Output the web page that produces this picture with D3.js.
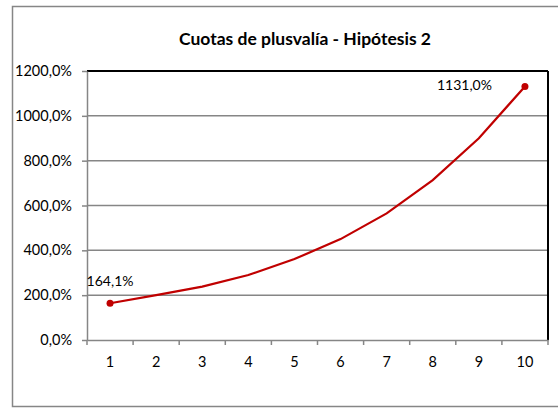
<!DOCTYPE html>
<html><head><meta charset="utf-8">
<script src="https://cdn.jsdelivr.net/npm/d3@7"></script>
<style>body{margin:0;background:#fff;overflow:hidden}svg{display:block}text{font-family:Lato,"Open Sans",sans-serif}</style>
</head><body><svg id="c" width="558" height="408"></svg>
<script>
const title = "Cuotas de plusvalía - Hipótesis 2";
const categories = [1,2,3,4,5,6,7,8,9,10];
const values = [164.1, 200, 238, 290, 361, 450, 565, 713, 900, 1131.0];
const yTicks = [0,200,400,600,800,1000,1200];
const labeledIdx = [0, 9];

const svg = d3.select("#c");
const m = {l:87, t:71, r:548, b:340};
const fmt = v => d3.format(".1f")(v).replace(".", ",") + "%";

svg.append("rect").attr("x",12.5).attr("y",6.5).attr("width",600).attr("height",400)
  .attr("fill","#fff").attr("stroke","#868686").attr("stroke-width",1.5);

svg.append("text").attr("x",305).attr("y",45).attr("text-anchor","middle")
  .attr("font-weight","bold").attr("font-size",17.5).attr("fill","#000").text(title);

const x = d3.scaleBand().domain(categories).range([m.l, m.r]).padding(0);
const y = d3.scaleLinear().domain([0,1200]).range([m.b, m.t]);

svg.append("g").selectAll("line").data(yTicks.filter(d=>d>0 && d<1200)).join("line")
  .attr("x1",m.l).attr("x2",m.r).attr("y1",d=>y(d)).attr("y2",d=>y(d))
  .attr("stroke","#868686").attr("stroke-width",1.5);

svg.append("line").attr("x1",m.l).attr("x2",m.r).attr("y1",m.t).attr("y2",m.t).attr("stroke","#000").attr("stroke-width",2);
svg.append("line").attr("x1",m.r).attr("x2",m.r).attr("y1",m.t).attr("y2",m.b).attr("stroke","#000").attr("stroke-width",2);

const ya = svg.append("g").attr("transform",`translate(${m.l},0)`)
  .call(d3.axisLeft(y).tickValues(yTicks).tickFormat(fmt).tickSize(5).tickSizeOuter(0));
ya.select(".domain").attr("stroke","#868686").attr("stroke-width",1.5);
ya.selectAll(".tick line").attr("stroke","#868686").attr("stroke-width",1.5);
ya.selectAll(".tick text").attr("font-size",14.5).attr("fill","#000").attr("x",-15).attr("font-family","Lato,sans-serif");

const xa = svg.append("g").attr("transform",`translate(0,${m.b})`)
  .call(d3.axisBottom(x).tickSize(0).tickSizeOuter(0));
xa.select(".domain").attr("stroke","#868686").attr("stroke-width",1.5);
xa.selectAll(".tick text").attr("font-size",14.5).attr("fill","#000").attr("dy","0").attr("y",27).attr("font-family","Lato,sans-serif");
const bounds = categories.map(c=>x(c)).concat([m.r]);
xa.selectAll("line.bt").data(bounds).join("line").attr("class","bt")
  .attr("x1",d=>d).attr("x2",d=>d).attr("y1",0).attr("y2",5)
  .attr("stroke","#868686").attr("stroke-width",1.5);

const cx = c => x(c) + x.bandwidth()/2;
const line = d3.line().x((d,i)=>cx(categories[i])).y(d=>y(d));
svg.append("path").datum(values).attr("d",line).attr("fill","none")
  .attr("stroke","#C00000").attr("stroke-width",2.2);

svg.selectAll("circle.pt").data(labeledIdx).join("circle").attr("class","pt")
  .attr("cx",i=>cx(categories[i])).attr("cy",i=>y(values[i])).attr("r",3.5).attr("fill","#C00000");

svg.append("text").attr("x",cx(categories[0])).attr("y",y(values[0])-17).attr("text-anchor","middle")
  .attr("font-size",14).attr("fill","#000").text(fmt(values[0]));
svg.append("text").attr("x",cx(categories[9])-33).attr("y",y(values[9])+4).attr("text-anchor","end")
  .attr("font-size",14).attr("fill","#000").text(fmt(values[9]));
</script></body></html>
